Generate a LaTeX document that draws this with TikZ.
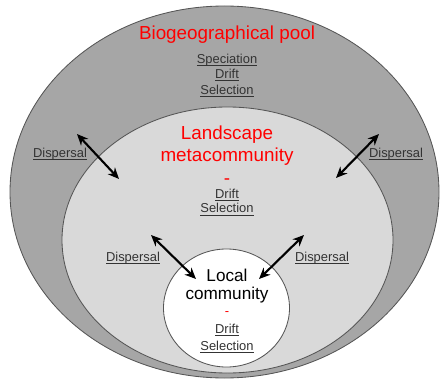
\documentclass[tikz,border=0pt]{standalone}
\usepackage{fontspec}
\setmainfont{Liberation Sans}
\usetikzlibrary{arrows.meta}

\definecolor{poolgray}{HTML}{A6A6A6}
\definecolor{landgray}{HTML}{D9D9D9}
\definecolor{rimgray}{HTML}{555555}
\definecolor{txtgray}{HTML}{333333}

\newcommand{\ulword}[1]{\underline{\smash{#1}}}

\tikzset{
  rim/.style={draw=rimgray,line width=0.6pt},
  title/.style={text=red,align=center,font=\fontsize{13.4}{16}\selectfont},
  proc/.style={text=txtgray,align=center,font=\fontsize{9.2}{11}\selectfont},
  disp/.style={black,line width=1.5pt,{Stealth[length=8pt,width=7pt]}-{Stealth[length=8pt,width=7pt]}}
}

\begin{document}
\begin{tikzpicture}[x=0.025cm,y=-0.025cm]

\useasboundingbox (0,0) rectangle (440,380);

% the three nested areas
\draw[rim,fill=poolgray] (224.5,192) ellipse [x radius=214.5, y radius=186];
\draw[rim,fill=landgray] (227.5,240) ellipse [x radius=165.5, y radius=133];
\draw[rim,fill=white] (226.5,308) ellipse [x radius=63, y radius=59];

% biogeographical pool
\node[title] (pool) at (227,35) {Biogeographical pool};
\node[proc] (poolproc) at (227,80) {\ulword{Speciation}\\\ulword{Drift}\\\ulword{Selection}};

% landscape metacommunity
\node[title] (land) at (227,155) {Landscape\\metacommunity\\-};
\node[proc,font=\fontsize{9.2}{10.5}\selectfont] (landproc) at (227,207) {\ulword{Drift}\\\ulword{Selection}};

% local community
\node[align=center,font=\fontsize{12.2}{12.8}\selectfont] (local) at (227,286) {Local\\community};
\node[text=red,font=\fontsize{9.2}{11}\selectfont] (localdash) at (227,314) {-};
\node[proc,font=\fontsize{9.2}{12}\selectfont] (localproc) at (227,343) {\ulword{Drift}\\\ulword{Selection}};

% dispersal labels
\node[proc] (dispA) at (60,159) {\ulword{Dispersal}};
\node[proc] (dispB) at (396,159) {\ulword{Dispersal}};
\node[proc] (dispC) at (133,263) {\ulword{Dispersal}};
\node[proc] (dispD) at (322,263) {\ulword{Dispersal}};

% arrow ends
\coordinate (a1) at (77,134);
\coordinate (a2) at (119,179);
\coordinate (b1) at (379,134);
\coordinate (b2) at (336,178);
\coordinate (c1) at (151,235);
\coordinate (c2) at (196,279);
\coordinate (d1) at (304,235);
\coordinate (d2) at (259,279);

\draw[disp] (a1) -- (a2);
\draw[disp] (b1) -- (b2);
\draw[disp] (c1) -- (c2);
\draw[disp] (d1) -- (d2);

\end{tikzpicture}
\end{document}
